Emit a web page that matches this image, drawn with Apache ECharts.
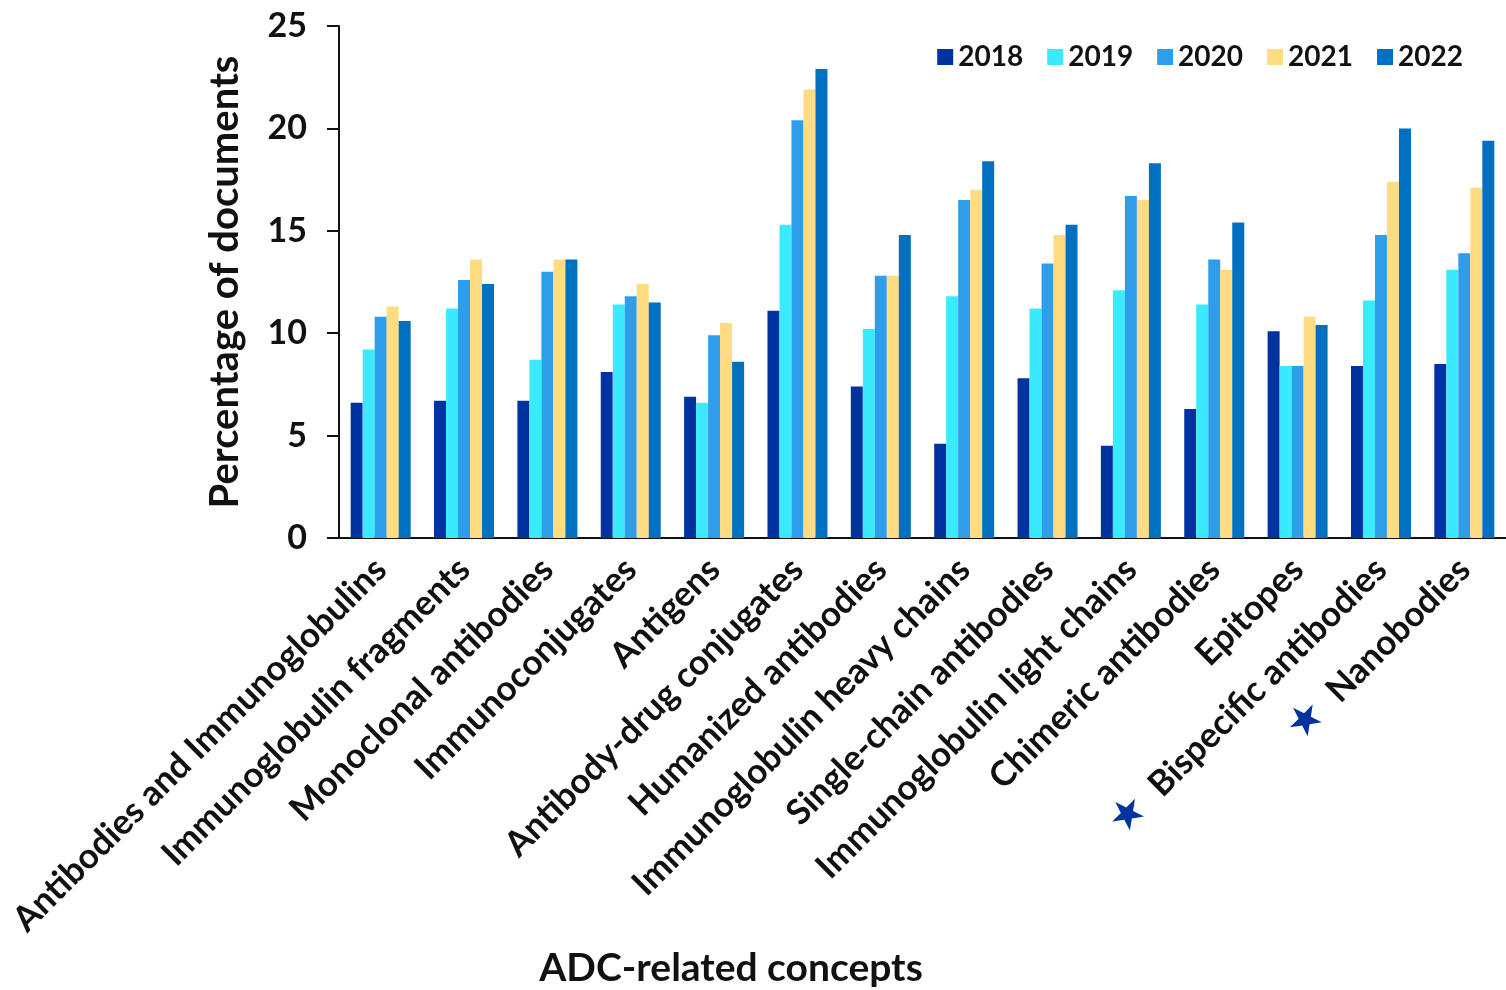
<!doctype html>
<html lang="en">
<head>
    <meta charset="utf-8">
    <title>ADC-related concepts</title>
    <script src="https://cdn.jsdelivr.net/npm/echarts@6/dist/echarts.min.js"></script>
    <style>
        body { margin: 0; background: #fff; }
        #main { width: 1506px; height: 990px; }
    </style>
</head>
<body>
    <div id="main"></div>
    <script>
        // categories on the x axis
        var concepts = [
            'Antibodies and Immunoglobulins', 'Immunoglobulin fragments', 'Monoclonal antibodies',
            'Immunoconjugates', 'Antigens', 'Antibody-drug conjugates', 'Humanized antibodies',
            'Immunoglobulin heavy chains', 'Single-chain antibodies', 'Immunoglobulin light chains',
            'Chimeric antibodies', 'Epitopes', 'Bispecific antibodies', 'Nanobodies'
        ];
        // concepts flagged with a star
        var starred = ['Bispecific antibodies', 'Nanobodies'];

        var years = ['2018', '2019', '2020', '2021', '2022'];
        var v2018 = [6.6, 6.7, 6.7, 8.1, 6.9, 11.1, 7.4, 4.6, 7.8, 4.5, 6.3, 10.1, 8.4, 8.5];
        var v2019 = [9.2, 11.2, 8.7, 11.4, 6.6, 15.3, 10.2, 11.8, 11.2, 12.1, 11.4, 8.4, 11.6, 13.1];
        var v2020 = [10.8, 12.6, 13.0, 11.8, 9.9, 20.4, 12.8, 16.5, 13.4, 16.7, 13.6, 8.4, 14.8, 13.9];
        var v2021 = [11.3, 13.6, 13.6, 12.4, 10.5, 21.9, 12.8, 17.0, 14.8, 16.5, 13.1, 10.8, 17.4, 17.1];
        var v2022 = [10.6, 12.4, 13.6, 11.5, 8.6, 22.9, 14.8, 18.4, 15.3, 18.3, 15.4, 10.4, 20.0, 19.4];
        var yTicks = [0, 5, 10, 15, 20, 25];

        var colors = ['#0033a0', '#3beaff', '#2e9dea', '#ffdc82', '#0070c0'];
        var font = 'Lato, "Open Sans", sans-serif';

        var myChart = echarts.init(document.getElementById('main'));

        var values = [v2018, v2019, v2020, v2021, v2022];
        var series = [];
        for (var i = 0; i < years.length; i++) {
            series.push({
                name: years[i],
                type: 'bar',
                data: values[i],
                barWidth: 12,
                barGap: '0%',
                itemStyle: { color: colors[i] }
            });
        }

        var option = {
            animation: false,
            color: colors,
            textStyle: { fontFamily: font },
            legend: {
                data: years,
                right: 38,
                top: 38,
                itemWidth: 16,
                itemHeight: 16,
                itemGap: 24,
                icon: 'rect',
                textStyle: { fontSize: 28, fontWeight: 'bold', color: '#111', fontFamily: font }
            },
            grid: { left: 339, top: 26, width: 1172, bottom: 452 },
            xAxis: {
                type: 'category',
                data: concepts,
                axisLine: { lineStyle: { color: '#111', width: 2 } },
                axisTick: { alignWithLabel: true, length: 8, lineStyle: { color: '#111', width: 2 } },
                axisLabel: {
                    interval: 0,
                    rotate: 45,
                    margin: 26,
                    fontSize: 35,
                    fontWeight: 'bold',
                    color: '#111',
                    fontFamily: font,
                    formatter: function (v) {
                        if (starred.indexOf(v) >= 0) {
                            return '{star|★}  ' + v;
                        }
                        return v;
                    },
                    rich: {
                        star: { color: '#0033a0', fontSize: 42, fontFamily: 'DejaVu Sans' }
                    }
                }
            },
            yAxis: {
                type: 'value',
                min: yTicks[0],
                max: yTicks[yTicks.length - 1],
                interval: 5,
                name: 'Percentage of documents',
                nameLocation: 'middle',
                nameGap: 94,
                nameTextStyle: { fontSize: 40, fontWeight: 'bold', color: '#111', fontFamily: font },
                splitLine: { show: false },
                axisLine: { show: true, lineStyle: { color: '#111', width: 2 } },
                axisTick: { show: true, length: 12, lineStyle: { color: '#111', width: 2 } },
                axisLabel: { fontSize: 34, fontWeight: 'bold', color: '#111', margin: 32, fontFamily: font }
            },
            graphic: [{
                type: 'text',
                x: 731,
                y: 968,
                style: {
                    text: 'ADC-related concepts',
                    fontSize: 39,
                    fontWeight: 'bold',
                    fill: '#111',
                    fontFamily: font,
                    align: 'center',
                    verticalAlign: 'middle'
                }
            }],
            series: series
        };

        myChart.setOption(option);
    </script>
</body>
</html>
